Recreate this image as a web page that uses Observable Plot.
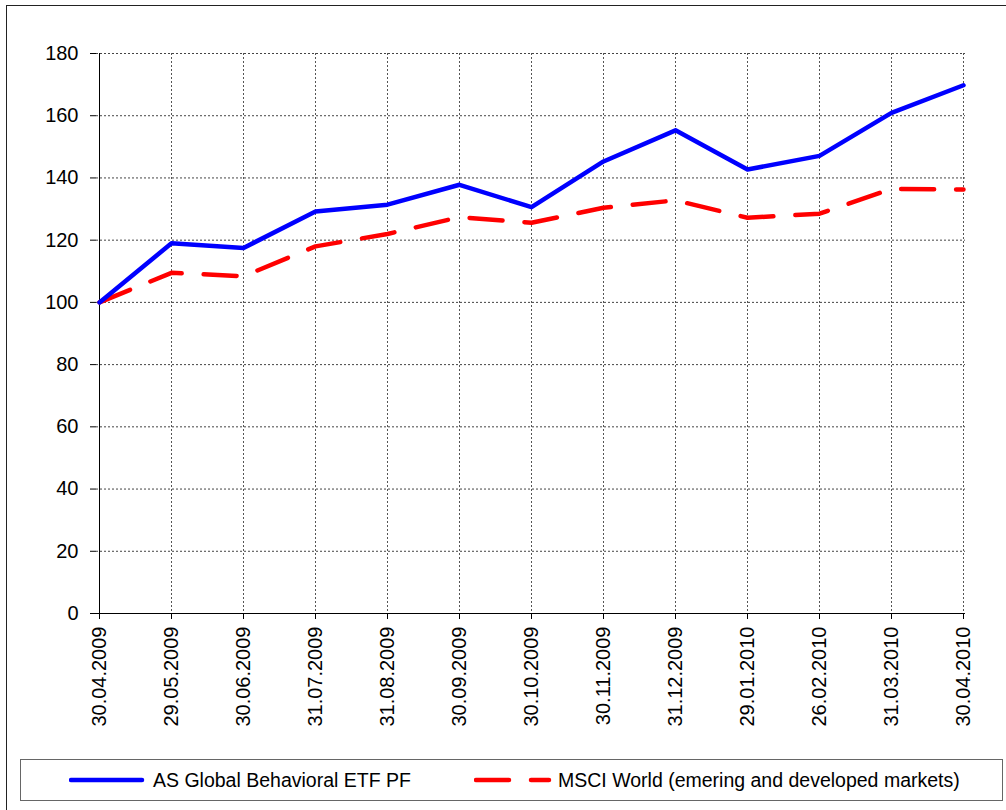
<!DOCTYPE html>
<html>
<head>
<meta charset="utf-8">
<script src="https://cdn.jsdelivr.net/npm/d3@7"></script>
<script src="https://cdn.jsdelivr.net/npm/@observablehq/plot@0.6"></script>
<style>
  html, body { margin: 0; padding: 0; background: #fff; overflow: hidden; }
  body { width: 1006px; height: 810px; position: relative; font-family: "Liberation Sans", Arial, sans-serif; }
  #frame { position: absolute; left: 6px; top: 5px; width: 1020px; height: 830px; border: 1px solid #222; box-sizing: border-box; }
  #chart { position: absolute; left: 0; top: 0; }
  #legend { position: absolute; left: 20px; top: 759px; width: 983px; height: 42px; border: 1px solid #666; box-sizing: border-box; background: #fff; }
  .sw { position: absolute; top: 0; }
  .lt { position: absolute; top: 9px; font-size: 19.5px; color: #000; white-space: nowrap; }
</style>
</head>
<body>
<div id="frame"></div>
<div id="chart"></div>
<div id="legend">
  <svg class="sw" style="left:48px" width="76" height="40"><line x1="2" x2="73" y1="20" y2="20" stroke="#0000FF" stroke-width="4.5" stroke-linecap="round"/></svg>
  <div class="lt" style="left:132px" id="l1"></div>
  <svg class="sw" style="left:453px" width="78" height="40"><line x1="2" x2="75" y1="20" y2="20" stroke="#FF0000" stroke-width="4.5" stroke-linecap="round" stroke-dasharray="33,22"/></svg>
  <div class="lt" style="left:537px" id="l2"></div>
</div>
<script>
const dates = ["30.04.2009","29.05.2009","30.06.2009","31.07.2009","31.08.2009","30.09.2009","30.10.2009","30.11.2009","31.12.2009","29.01.2010","26.02.2010","31.03.2010","30.04.2010"];
const etf  = [100, 119.0, 117.5, 129.2, 131.4, 137.8, 130.6, 145.3, 155.3, 142.7, 147.1, 160.9, 169.8];
const msci = [100, 109.5, 108.4, 118.0, 122.0, 127.4, 125.6, 130.4, 132.8, 127.2, 128.5, 136.5, 136.3];
const yTicks = [0, 20, 40, 60, 80, 100, 120, 140, 160, 180];
const seriesNames = ["AS Global Behavioral ETF PF", "MSCI World (emering and developed markets)"];

document.getElementById("l1").textContent = seriesNames[0];
document.getElementById("l2").textContent = seriesNames[1];

const rows = dates.map((d, i) => ({date: d, etf: etf[i], msci: msci[i]}));

const chart = Plot.plot({
  width: 1006,
  height: 757,
  marginTop: 53,
  marginLeft: 96,
  marginRight: 41,
  marginBottom: 144,
  style: {fontFamily: '"Liberation Sans", Arial, sans-serif', fontSize: "20px", color: "#000", background: "transparent"},
  x: {type: "point", domain: dates, padding: 0},
  y: {domain: [0, 180]},
  marks: [
    Plot.gridY(yTicks, {stroke: "#444", strokeOpacity: 1, strokeDasharray: "2,2"}),
    Plot.gridX(dates, {stroke: "#555", strokeOpacity: 1, strokeDasharray: "2,2"}),
    Plot.ruleX([dates[0]], {stroke: "#000", strokeWidth: 1}),
    Plot.ruleY([0], {stroke: "#000", strokeWidth: 1}),
    Plot.axisY(yTicks, {tickSize: 6, tickPadding: 12, fontSize: 20, label: null}),
    Plot.axisX(dates, {tickSize: 6, tickPadding: 7, tickRotate: -90, fontSize: 20, label: null}),
    Plot.line(rows, {x: "date", y: "msci", stroke: "#FF0000", strokeWidth: 4.5, strokeDasharray: "33,22", strokeLinecap: "round", strokeLinejoin: "round"}),
    Plot.line(rows, {x: "date", y: "etf", stroke: "#0000FF", strokeWidth: 4.5, strokeLinejoin: "round"})
  ]
});
document.getElementById("chart").appendChild(chart);
</script>
</body>
</html>
